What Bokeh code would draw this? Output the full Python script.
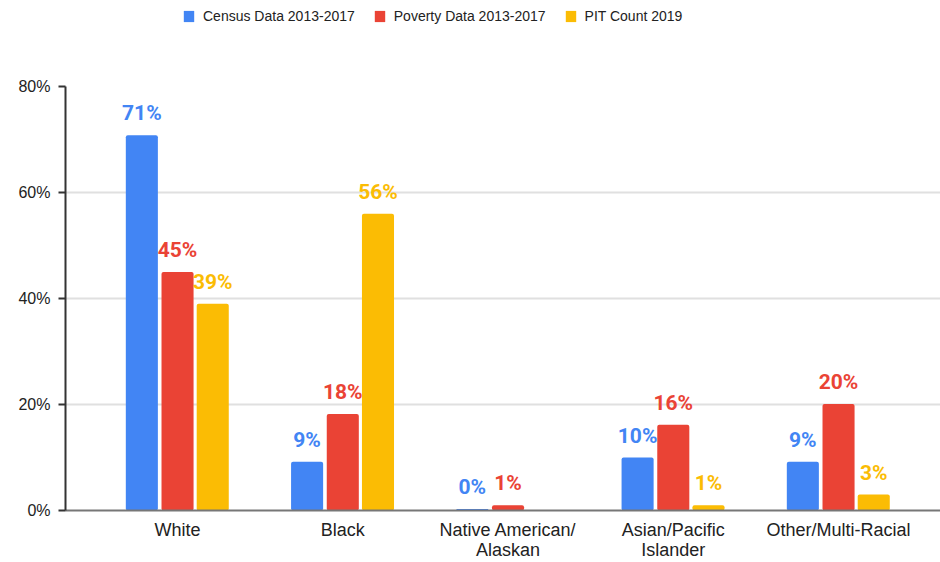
from bokeh.plotting import figure
from bokeh.layouts import column
from bokeh.models import (ColumnDataSource, FixedTicker, PrintfTickFormatter, Legend, LegendItem,
                          Range1d)
from bokeh.core.properties import value
from bokeh.embed import file_html
from bokeh.resources import INLINE

categories = ["White", "Black", "Native American/\nAlaskan", "Asian/Pacific\nIslander", "Other/Multi-Racial"]
series_names = ["Census Data 2013-2017", "Poverty Data 2013-2017", "PIT Count 2019"]
census = [70.8, 9.2, 0.3, 10.0, 9.2]
poverty = [45.0, 18.2, 1.0, 16.2, 20.1]
pit = [39.0, 56.0, 0.0, 1.0, 3.0]
census_labels = ["71%", "9%", "0%", "10%", "9%"]
poverty_labels = ["45%", "18%", "1%", "16%", "20%"]
pit_labels = ["39%", "56%", "", "1%", "3%"]
y_ticks = [0, 20, 40, 60, 80]

colors = ["#4285F4", "#EA4335", "#FBBC04"]
offsets = [-0.216, 0.0, 0.213]
bar_w = 0.194

# ---- legend strip on top ----
lf = figure(width=940, height=36, output_backend="svg", toolbar_location=None,
            x_range=Range1d(0, 1), y_range=Range1d(0, 1), x_axis_type=None, y_axis_type=None,
            min_border=0, min_border_left=0, min_border_right=0, min_border_top=0, min_border_bottom=0)
lf.outline_line_color = None
lf.border_fill_color = "white"
# zero-height swatch renderers, only used for the legend glyphs
legend_renderers = [lf.vbar(x=[0.5], top=[0], width=0.01, fill_color=c, line_color=None) for c in colors]
legend = Legend(items=[LegendItem(label=n, renderers=[r]) for n, r in zip(series_names, legend_renderers)],
                orientation="horizontal", location=(117, 12),
                label_text_font="Liberation Sans", label_text_font_size="14px",
                label_text_color="#222222", glyph_width=13, glyph_height=14,
                spacing=18, label_standoff=8, border_line_color=None, padding=0, margin=0,
                background_fill_alpha=0)
lf.add_layout(legend, "center")

# ---- main chart ----
p = figure(width=940, height=526, output_backend="svg", toolbar_location=None,
           x_range=Range1d(-0.678, 4.617), y_range=Range1d(0, 80),
           min_border_left=65, min_border_right=0, min_border_top=50, min_border_bottom=40)
p.outline_line_color = None
p.background_fill_color = "white"
p.border_fill_color = "white"

xs = list(range(len(categories)))
for vals, labs, col, off in zip([census, poverty, pit], [census_labels, poverty_labels, pit_labels], colors, offsets):
    src = ColumnDataSource(dict(x=[i + off for i in xs], top=vals, lab=labs))
    p.vbar(x="x", top="top", width=bar_w, source=src, fill_color=col, line_color=None,
           border_radius=2)
    p.text(x="x", y="top", text="lab", source=src, text_align="center", text_baseline="bottom",
           y_offset=-10, text_color=col, text_font=value("Roboto"), text_font_style="bold",
           text_font_size="21px")

# axes
p.xaxis.ticker = FixedTicker(ticks=xs)
p.xaxis.major_label_overrides = {i: c for i, c in enumerate(categories)}
p.xaxis.major_tick_line_color = None
p.xaxis.minor_tick_line_color = None
p.xaxis.axis_line_color = "#777777"
p.xaxis.axis_line_width = 2
p.xaxis.major_label_text_font = "Liberation Sans"
p.xaxis.major_label_text_font_size = "18px"
p.xaxis.major_label_text_color = "#222222"
p.xaxis.major_label_text_line_height = 1.0
p.xaxis.major_label_standoff = 3
p.xgrid.grid_line_color = None

p.yaxis.ticker = FixedTicker(ticks=y_ticks)
p.yaxis.formatter = PrintfTickFormatter(format="%d%%")
p.yaxis.axis_line_color = "#333333"
p.yaxis.axis_line_width = 2
p.yaxis.major_tick_line_color = "#333333"
p.yaxis.major_tick_line_width = 2
p.yaxis.major_tick_in = 0
p.yaxis.major_tick_out = 7
p.yaxis.minor_tick_line_color = None
p.yaxis.major_label_text_font = "Liberation Sans"
p.yaxis.major_label_text_font_size = "16px"
p.yaxis.major_label_text_color = "#222222"
p.yaxis.major_label_standoff = 8
p.ygrid.grid_line_color = "#e0e0e0"
p.ygrid.grid_line_width = 2

layout = column(lf, p, spacing=0)
open("out.html", "w").write(file_html(layout, INLINE))
